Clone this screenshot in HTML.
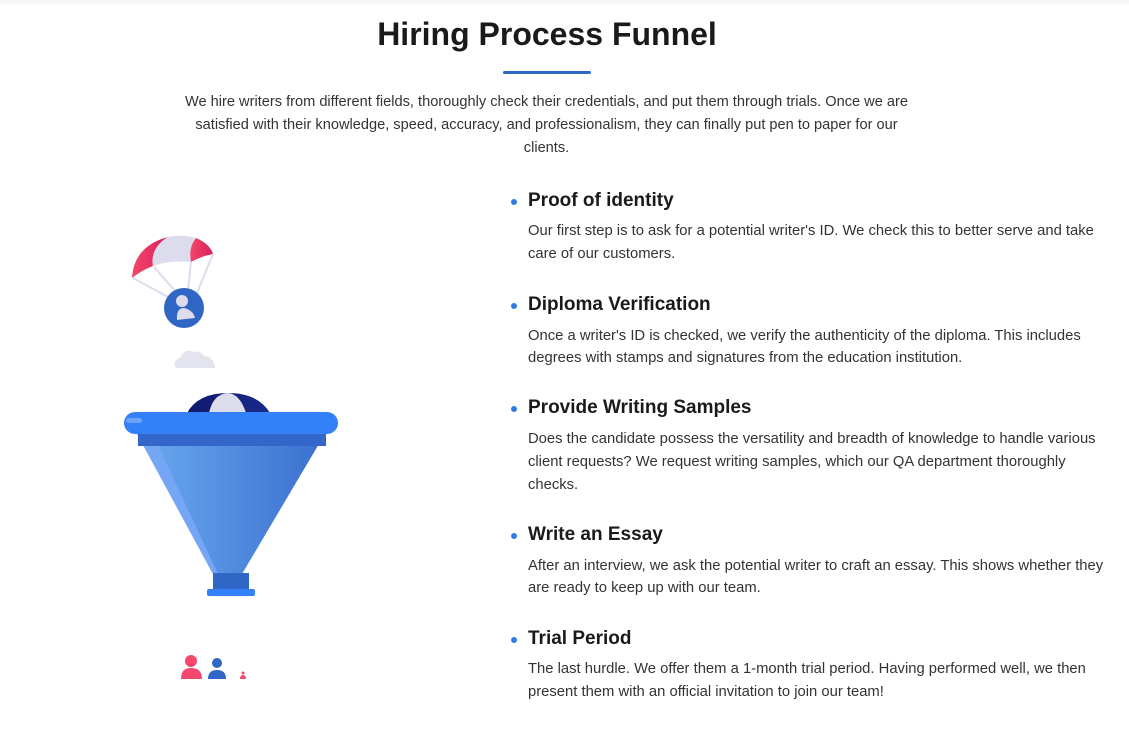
<!DOCTYPE html>
<html><head><meta charset="utf-8"><style>
body{margin:0;width:1129px;height:742px;background:#fff;position:relative;overflow:hidden;font-family:"Liberation Sans",Arial,sans-serif;color:#333}
.a{position:absolute;white-space:nowrap}
.h{font-size:19px;font-weight:bold;color:#1a1a1a;left:528px;line-height:24px}
.t{font-size:14.8px;left:528px;line-height:20px;color:#333}
.b{position:absolute;left:511px;width:6px;height:6px;border-radius:50%;background:#2f7be0}
.c{font-size:14.6px;color:#333;width:1129px;text-align:center;line-height:20px}
</style></head><body>
<div style="position:absolute;left:0;top:0;width:1129px;height:6px;background:linear-gradient(#f3f3f3,#fff)"></div>
<div class="a" style="left:0;width:1094px;text-align:center;top:14px;font-size:32px;font-weight:bold;color:#1a1a1a;line-height:40px">Hiring Process Funnel</div>
<div style="position:absolute;left:503px;top:71px;width:88px;height:3px;background:#2a6ac4;border-radius:2px"></div>
<div class="a c" style="top:92px;left:-18px">We hire writers from different fields, thoroughly check their credentials, and put them through trials. Once we are</div>
<div class="a c" style="top:115px;left:-18px">satisfied with their knowledge, speed, accuracy, and professionalism, they can finally put pen to paper for our</div>
<div class="a c" style="top:138px;left:-18px">clients.</div>

<div class="b" style="top:199px"></div><div class="a h" style="top:189px">Proof of identity</div>
<div class="a t" style="top:221px">Our first step is to ask for a potential writer's ID. We check this to better serve and take</div>
<div class="a t" style="top:244px">care of our customers.</div>

<div class="b" style="top:303px"></div><div class="a h" style="top:293px">Diploma Verification</div>
<div class="a t" style="top:326px">Once a writer's ID is checked, we verify the authenticity of the diploma. This includes</div>
<div class="a t" style="top:348px">degrees with stamps and signatures from the education institution.</div>

<div class="b" style="top:406px"></div><div class="a h" style="top:396px">Provide Writing Samples</div>
<div class="a t" style="top:429px">Does the candidate possess the versatility and breadth of knowledge to handle various</div>
<div class="a t" style="top:452px">client requests? We request writing samples, which our QA department thoroughly</div>
<div class="a t" style="top:475px">checks.</div>

<div class="b" style="top:533px"></div><div class="a h" style="top:523px">Write an Essay</div>
<div class="a t" style="top:556px">After an interview, we ask the potential writer to craft an essay. This shows whether they</div>
<div class="a t" style="top:578px">are ready to keep up with our team.</div>

<div class="b" style="top:637px"></div><div class="a h" style="top:627px">Trial Period</div>
<div class="a t" style="top:659px">The last hurdle. We offer them a 1-month trial period. Having performed well, we then</div>
<div class="a t" style="top:682px">present them with an official invitation to join our team!</div>

<svg style="position:absolute;left:0;top:0" width="480" height="742">
<defs>
<linearGradient id="f" x1="0" x2="1"><stop offset="0" stop-color="#6aaaf0"/><stop offset="1" stop-color="#3a6fcf"/></linearGradient>
<linearGradient id="p" x1="0" x2="1"><stop offset="0" stop-color="#f4476b"/><stop offset="1" stop-color="#d8205a"/></linearGradient>
<linearGradient id="d" x1="0" x2="1"><stop offset="0" stop-color="#0f1a6e"/><stop offset="1" stop-color="#1a2a8a"/></linearGradient>
</defs>
<!-- parachute canopy -->
<path d="M132 278 Q134 246 168 237 Q150 248 153 266 Q142 270 132 278Z" fill="url(#p)"/>
<path d="M153 266 Q150 248 168 237 Q182 234 196 238 Q188 248 191 262 Q170 260 153 266Z" fill="#dcdcec"/>
<path d="M191 262 Q188 248 196 238 Q210 244 213 254 Q202 256 191 262Z" fill="url(#p)"/>
<line x1="133" y1="278" x2="170" y2="298" stroke="#dcdcec" stroke-width="2"/>
<line x1="154" y1="267" x2="176" y2="292" stroke="#dcdcec" stroke-width="2"/>
<line x1="191" y1="262" x2="188" y2="290" stroke="#dcdcec" stroke-width="2"/>
<line x1="213" y1="254" x2="197" y2="293" stroke="#dcdcec" stroke-width="2"/>
<circle cx="184" cy="308" r="20" fill="#2f66c4"/>
<circle cx="182" cy="301" r="6" fill="#dcdcec"/>
<path d="M177 320 Q176 308 184 308 Q193 310 195 318 Z" fill="#dcdcec"/>
<!-- cloud -->
<path d="M176 368 Q172 360 180 358 Q184 348 194 352 Q200 350 204 356 Q214 356 215 368 Z" fill="#e4e4ee"/>
<!-- dome -->
<path d="M187 413 Q198 393 228 393 Q258 393 270 413 Z" fill="url(#d)"/>
<path d="M209 413 Q213 394 228 393 Q240 394 246 413 Z" fill="#dcdcec"/>
<!-- funnel -->
<path d="M136 432 L326 432 L242 574 L213 574 Z" fill="url(#f)"/>
<path d="M136 432 L152 432 L218 574 L213 574 Z" fill="#74a6f5"/>
<rect x="138" y="432" width="188" height="14" fill="#3366c8"/>
<rect x="124" y="412" width="214" height="22" rx="11" fill="#3380f8"/>
<rect x="126" y="418" width="16" height="5" rx="2.5" fill="#6aa3f8"/>
<rect x="213" y="573" width="36" height="17" fill="#3066c6"/>
<rect x="207" y="589" width="48" height="7" rx="2" fill="#3380f8"/>
<!-- people -->
<circle cx="191" cy="661" r="6" fill="#f6476f"/>
<path d="M181 679 Q181 668 191 668 Q202 668 202 679 Z" fill="#f6476f"/>
<circle cx="217" cy="663" r="5" fill="#3066c6"/>
<path d="M208 679 Q208 670 217 670 Q226 670 226 679 Z" fill="#3066c6"/>
<circle cx="243" cy="673" r="1.5" fill="#f6476f"/>
<path d="M240 679 Q240 675 243 675 Q246 675 246 679 Z" fill="#f6476f"/>
</svg>
</body></html>
